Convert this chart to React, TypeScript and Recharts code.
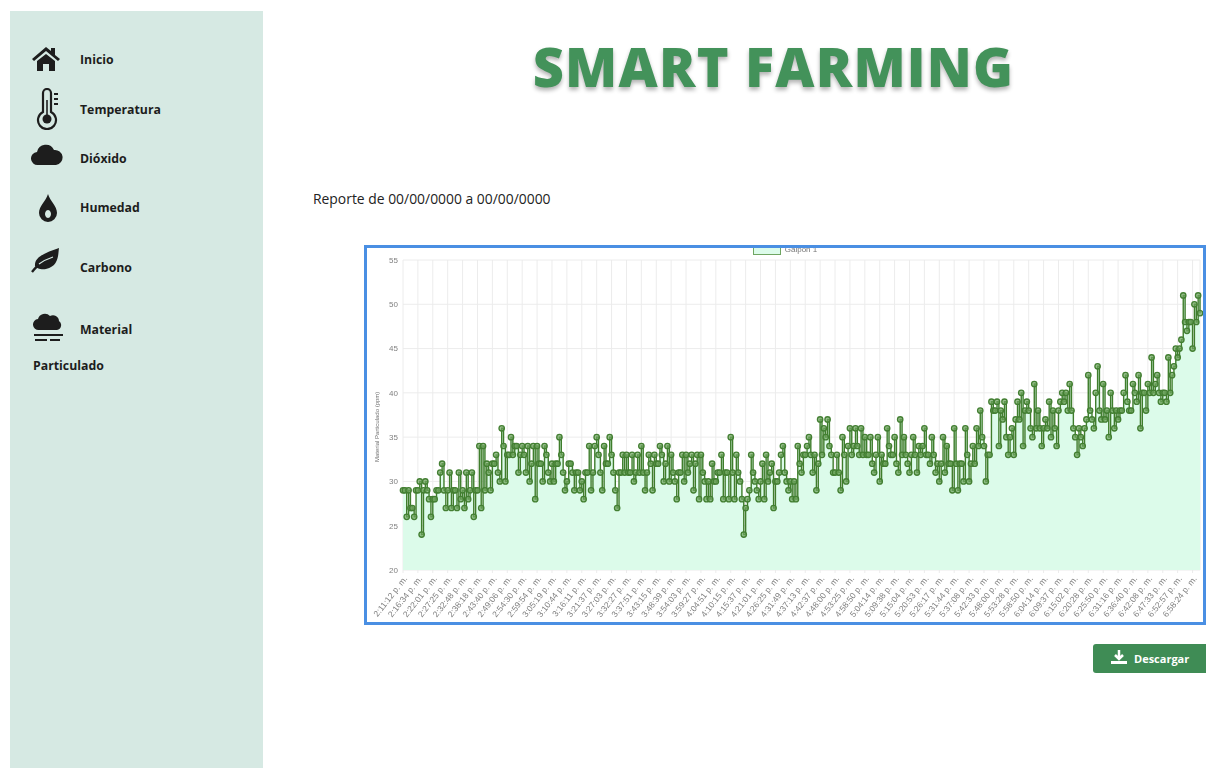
import React from "react"
import { AreaChart, Area, CartesianGrid, XAxis, YAxis, Legend } from "recharts"

const tickLabels = [
   "2:11:12 p. m.", "2:16:34 p. m.", "2:22:01 p. m.", "2:27:25 p. m.", "2:32:48 p. m.", "2:38:18 p. m.",
   "2:43:40 p. m.", "2:49:06 p. m.", "2:54:30 p. m.", "2:59:54 p. m.", "3:05:19 p. m.", "3:10:44 p. m.",
   "3:16:11 p. m.", "3:21:37 p. m.", "3:27:03 p. m.", "3:32:27 p. m.", "3:37:51 p. m.", "3:43:15 p. m.",
   "3:48:39 p. m.", "3:54:03 p. m.", "3:59:27 p. m.", "4:04:51 p. m.", "4:10:15 p. m.", "4:15:37 p. m.",
   "4:21:01 p. m.", "4:26:25 p. m.", "4:31:49 p. m.", "4:37:13 p. m.", "4:42:37 p. m.", "4:48:00 p. m.",
   "4:53:25 p. m.", "4:58:50 p. m.", "5:04:14 p. m.", "5:09:38 p. m.", "5:15:04 p. m.", "5:20:53 p. m.",
   "5:26:17 p. m.", "5:31:44 p. m.", "5:37:08 p. m.", "5:42:33 p. m.", "5:48:00 p. m.", "5:53:28 p. m.",
   "5:58:50 p. m.", "6:04:14 p. m.", "6:09:37 p. m.", "6:15:02 p. m.", "6:20:28 p. m.", "6:25:50 p. m.",
   "6:31:16 p. m.", "6:36:40 p. m.", "6:42:08 p. m.", "6:47:33 p. m.", "6:52:57 p. m.", "6:58:24 p. m.",
]

// eight readings between each labelled tick
const pointsPerTick = 8
const galpon1 = [
   29, 29, 26, 29, 27, 27, 26, 29,
   29, 30, 24, 29, 30, 29, 28, 26,
   28, 28, 29, 29, 31, 32, 29, 27,
   29, 31, 27, 29, 29, 27, 31, 28,
   29, 27, 31, 28, 29, 31, 26, 29,
   29, 34, 27, 34, 29, 32, 31, 29,
   32, 32, 33, 31, 30, 36, 34, 30,
   33, 33, 35, 33, 34, 34, 31, 33,
   34, 33, 31, 34, 30, 32, 34, 28,
   34, 32, 32, 30, 34, 33, 31, 30,
   32, 30, 32, 32, 35, 33, 31, 29,
   30, 32, 32, 31, 29, 31, 31, 29,
   30, 28, 31, 31, 34, 29, 31, 34,
   35, 33, 31, 29, 34, 32, 32, 35,
   33, 31, 29, 27, 31, 31, 33, 31,
   33, 31, 31, 33, 30, 31, 33, 31,
   34, 31, 29, 31, 33, 32, 29, 33,
   32, 32, 34, 33, 30, 32, 34, 30,
   33, 31, 30, 28, 31, 31, 33, 30,
   33, 31, 32, 33, 29, 32, 33, 28,
   33, 31, 30, 28, 30, 28, 32, 30,
   30, 31, 31, 33, 28, 31, 31, 28,
   35, 31, 28, 33, 31, 30, 28, 24,
   27, 28, 29, 33, 31, 30, 29, 28,
   30, 32, 28, 33, 30, 31, 32, 27,
   30, 30, 31, 33, 34, 31, 30, 29,
   30, 28, 30, 28, 34, 32, 31, 33,
   33, 34, 35, 33, 31, 33, 29, 32,
   37, 33, 36, 35, 37, 34, 33, 31,
   31, 33, 31, 29, 35, 33, 30, 34,
   36, 33, 34, 36, 34, 33, 36, 33,
   35, 33, 33, 35, 32, 31, 33, 35,
   30, 33, 32, 32, 36, 34, 33, 33,
   35, 32, 31, 37, 33, 35, 33, 32,
   31, 33, 35, 33, 31, 34, 33, 34,
   36, 33, 33, 32, 35, 33, 31, 32,
   30, 32, 35, 31, 34, 32, 32, 29,
   36, 32, 29, 32, 32, 30, 36, 33,
   30, 32, 34, 32, 36, 34, 38, 35,
   34, 30, 33, 33, 39, 38, 38, 39,
   34, 38, 37, 39, 35, 33, 35, 36,
   33, 37, 39, 37, 40, 34, 38, 39,
   38, 36, 35, 41, 36, 38, 36, 34,
   36, 37, 36, 39, 35, 38, 36, 34,
   38, 39, 40, 39, 40, 38, 41, 38,
   36, 35, 33, 36, 35, 34, 36, 37,
   42, 38, 37, 36, 40, 43, 38, 37,
   41, 37, 38, 35, 40, 38, 36, 38,
   37, 38, 38, 40, 42, 39, 38, 38,
   41, 40, 39, 42, 36, 40, 40, 38,
   41, 40, 44, 40, 41, 42, 40, 39,
   40, 40, 39, 44, 40, 42, 43, 45,
   44, 45, 46, 51, 48, 47, 48, 48,
   45, 50, 48, 51, 49,
]

const yTicks = [20, 25, 30, 35, 40, 45, 50, 55]
const seriesName = "Galpon 1"
const yTitle = "Material Particulado (ppm)"

const chartData = galpon1.map((value, idx) => ({ idx, value }))
const xTicks = tickLabels.map((_, i) => i * pointsPerTick)

const menuItems = [
   { label: "Inicio", top: 51 },
   { label: "Temperatura", top: 101 },
   { label: "Dióxido", top: 150 },
   { label: "Humedad", top: 199 },
   { label: "Carbono", top: 259 },
   { label: "Material", top: 321 },
]

const ink = "#1d1d1d"
const menuFont = "'Open Sans', sans-serif"
const icons = [
   { left: 31, top: 46, w: 30, h: 26, body: <path d="M1 13 L15 1 L20 5 V2 H24 V9 L29 13 L27 15 L15 5 L3 15 Z M6 15 L15 8 L24 15 V25 H18 V18 H12 V25 H6 Z" fill={ink} /> },
   { left: 36, top: 88, w: 24, h: 42, body: <g><path d="M6 4 a4 4 0 0 1 8 0 V23 a9 9 0 1 1 -8 0 Z" fill="none" stroke={ink} strokeWidth="2.2" transform="translate(1,1)" /><circle cx="11" cy="31" r="4.5" fill={ink} /><path d="M11 12 V28" stroke={ink} strokeWidth="1.6" /><path d="M18 6 h4 M18 11 h4 M18 16 h4" stroke={ink} strokeWidth="1.8" /></g> },
   { left: 31, top: 142, w: 32, h: 24, body: <path d="M7 23 a6.5 6.5 0 0 1 -1 -13 a9 9 0 0 1 17 -2 a7.5 7.5 0 0 1 2 15 Z" fill={ink} /> },
   { left: 37, top: 193, w: 22, h: 30, body: <path fillRule="evenodd" d="M11 1 C13 8 20 13 20 20 a9 9 0 0 1 -18 0 C2 13 9 8 11 1 Z M11 17 a3 4 0 1 0 .01 0 Z" fill={ink} /> },
   { left: 30, top: 247, w: 30, h: 26, body: <g><path d="M29 1 C28 8 29 19 16 22 C11 23 6 21 5 19 C4 9 18 5 29 1 Z" fill={ink} /><path d="M2 25 C6 20 8 18 11 16" stroke={ink} strokeWidth="2.4" fill="none" /><path d="M9 17 C13 14 17 12 23 10" stroke="#d6e9e3" strokeWidth="1.2" fill="none" /></g> },
   { left: 33, top: 312, w: 32, h: 34, body: <g><path d="M6 18 a5.500 5.500 0 0 1 -1 -11 a7 7 0 0 1 12 -3 a6 6 0 0 1 9 5 a5 5 0 0 1 -2 9 Z" fill={ink} /><path d="M1 23 H30 M2 28 H14 M17 28 H27" stroke={ink} strokeWidth="2" /></g> },
]

const GalponLegend = () => (
   <div style={{ display: "flex", alignItems: "center", justifyContent: "center", fontFamily: "Liberation Sans", fontSize: 8, color: "#777" }}>
      <span style={{ width: 26, height: 10, background: "#dcfbea", border: "1.5px solid #6fa562", marginRight: 4 }} />
      {seriesName}
   </div>
)

const App = () => {
   return (
      <div style={{ position: "fixed", inset: 0, overflow: "hidden", background: "#fff", fontFamily: menuFont }}>
         <div style={{ position: "absolute", left: 10, top: 11, width: 253, height: 757, background: "#d6e9e3" }} />
         {icons.map((ic, i) => (
            <svg key={i} width={ic.w} height={ic.h} style={{ position: "absolute", left: ic.left, top: ic.top }}>
               {ic.body}
            </svg>
         ))}
         {menuItems.map((m) => (
            <div key={m.label} style={{ position: "absolute", left: 80, top: m.top, fontSize: 12.3, lineHeight: "18px", fontWeight: 700, color: ink }}>
               {m.label}
            </div>
         ))}
         <div style={{ position: "absolute", left: 33, top: 357, fontSize: 12.3, lineHeight: "18px", fontWeight: 700, color: ink }}>Particulado</div>

         <div style={{ position: "absolute", left: 437, top: 30, width: 673, textAlign: "center", whiteSpace: "nowrap", fontSize: 54, letterSpacing: 1.2, lineHeight: "72px", fontWeight: 800, color: "#43925a", textShadow: "0 3px 4px rgba(0,0,0,0.3)" }}>
            SMART FARMING
         </div>
         <div style={{ position: "absolute", left: 313, top: 190, fontSize: 13.9, lineHeight: "18px", color: "#222" }}>
            Reporte de 00/00/0000 a 00/00/0000
         </div>

         <div style={{ position: "absolute", left: 364, top: 245, width: 842, height: 380, boxSizing: "border-box", border: "3px solid #4a8fe3", overflow: "hidden" }}>
            <div style={{ filter: "blur(0.6px)" }}>
               <AreaChart width={836} height={374} data={chartData} margin={{ top: 12, right: 3, bottom: 0, left: 0 }}>
                  <CartesianGrid stroke="#ececec" />
                  <XAxis
                     dataKey="idx"
                     type="number"
                     domain={[0, galpon1.length - 1]}
                     ticks={xTicks}
                     interval={0}
                     tickFormatter={(v: number) => tickLabels[v / pointsPerTick]}
                     height={52}
                     angle={-52}
                     textAnchor="end"
                     tickSize={3}
                     tick={{ fontSize: 8.5, fill: "#808080", fontFamily: "Liberation Sans" }}
                     axisLine={false}
                     tickLine={{ stroke: "#ececec" }}
                  />
                  <YAxis
                     domain={[20, 55]}
                     ticks={yTicks}
                     width={36}
                     tickSize={3}
                     tick={{ fontSize: 8, fill: "#808080", fontFamily: "Liberation Sans" }}
                     axisLine={false}
                     tickLine={false}
                     label={{ value: yTitle, angle: -90, position: "insideLeft", offset: 10, dy: 47, style: { fontSize: 6, fill: "#707070", fontFamily: "Liberation Sans" } }}
                  />
                  <Legend verticalAlign="middle" content={<GalponLegend />} wrapperStyle={{ top: -5, left: 0, width: 836 }} />
                  <Area
                     type="stepAfter"
                     dataKey="value"
                     name={seriesName}
                     stroke="#3f7d2c"
                     strokeWidth={1.4}
                     fill="#dcfbea"
                     fillOpacity={1}
                     dot={{ r: 2.7, stroke: "#437f32", strokeWidth: 1.3, fill: "#6fa55f", fillOpacity: 0.7 }}
                     isAnimationActive={false}
                  />
               </AreaChart>
            </div>
         </div>

         <div style={{ position: "absolute", left: 1093, top: 644, width: 113, height: 29, background: "#3f8c55", borderRadius: "3px 0 0 3px", color: "#fff", fontSize: 11, fontWeight: 700, lineHeight: "29px" }}>
            <svg width="18" height="16" style={{ position: "absolute", left: 17, top: 5 }}>
               <path d="M9 1 V9 M5 6 L9 10 L13 6" stroke="#fff" strokeWidth="2.5" fill="none" />
               <path d="M1 12 H17 V15 H1 Z" fill="#fff" />
            </svg>
            <span style={{ position: "absolute", left: 41 }}>Descargar</span>
         </div>
      </div>
   )
}

export default App
